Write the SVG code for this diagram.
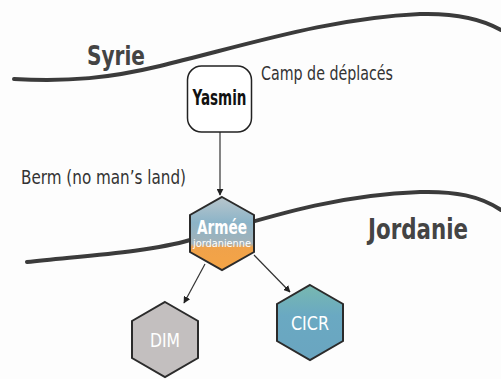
<svg xmlns="http://www.w3.org/2000/svg" width="501" height="379" viewBox="0 0 501 379">
<style>
.border{fill:none;stroke:#3b3b3b;stroke-width:4;stroke-linecap:round}
.lbl{font-family:"DejaVu Sans Condensed","DejaVu Sans",sans-serif;fill:#333}
.big{font-weight:bold;fill:#444}
.hex{stroke:#2b2b2b;stroke-width:2}
.htxt{font-family:"DejaVu Sans Condensed","DejaVu Sans",sans-serif;fill:#fff;text-anchor:middle}
.conn{stroke:#333;stroke-width:1.2;fill:none;marker-end:url(#ah)}
</style>
<defs>
<marker id="ah" viewBox="0 0 10 10" refX="9" refY="5" markerWidth="7" markerHeight="7" orient="auto" markerUnits="userSpaceOnUse">
<path d="M0,0 L10,5 L0,10 z" fill="#222"/>
</marker>
<linearGradient id="armee" x1="0" y1="0" x2="0" y2="1">
<stop offset="0" stop-color="#b9c6cc"/>
<stop offset="0.35" stop-color="#8cb4c8"/>
<stop offset="0.64" stop-color="#a3b2b8"/>
<stop offset="0.69" stop-color="#f0a24a"/>
<stop offset="1" stop-color="#f4a446"/>
</linearGradient>
<linearGradient id="cicr" x1="0" y1="0" x2="0" y2="1">
<stop offset="0" stop-color="#78b8b0"/>
<stop offset="0.4" stop-color="#6aa9c2"/>
<stop offset="1" stop-color="#6aa5c0"/>
</linearGradient>
</defs>
<rect width="501" height="379" fill="#fdfdfd"/>
<path class="border" d="M14,79 C70,82 110,78 160,66 C250,44 330,18 420,14 C455,13 480,18 501,30"/>
<path class="border" d="M27,262 C80,256 150,252 190,240 C260,220 330,195 420,192 C455,191 480,196 501,210"/>
<text class="lbl big" x="87" y="65" font-size="27" textLength="58" lengthAdjust="spacingAndGlyphs">Syrie</text>
<text class="lbl" x="261" y="80" font-size="19" textLength="132" lengthAdjust="spacingAndGlyphs">Camp de déplacés</text>
<text class="lbl" x="21" y="184" font-size="19" textLength="165" lengthAdjust="spacingAndGlyphs">Berm (no man’s land)</text>
<text class="lbl big" x="368" y="239" font-size="29" textLength="100" lengthAdjust="spacingAndGlyphs">Jordanie</text>
<g id="connectors">
<line class="conn" x1="220" y1="132" x2="220" y2="195"/>
<line class="conn" x1="205" y1="264" x2="184" y2="303"/>
<line class="conn" x1="254" y1="255" x2="290" y2="292"/>
</g>
<g id="yasmin">
<rect x="187.5" y="66" width="64" height="66" rx="14" fill="#fff" stroke="#222" stroke-width="1.5"/>
<text x="219.5" y="105" font-family="DejaVu Sans Condensed,DejaVu Sans,sans-serif" font-weight="bold" font-size="22" text-anchor="middle" fill="#111" textLength="54" lengthAdjust="spacingAndGlyphs">Yasmin</text>
</g>
<g id="armee-jordanienne">
<polygon class="hex" fill="url(#armee)" points="222,197 254,215 254,252 222,270 190,252 190,215"/>
<text class="htxt" x="222" y="234" font-size="20" font-weight="bold" textLength="50" lengthAdjust="spacingAndGlyphs">Armée</text>
<text class="htxt" x="222" y="247" font-size="10" textLength="58" lengthAdjust="spacingAndGlyphs">jordanienne</text>
</g>
<g id="dim">
<polygon class="hex" fill="#c3bfbf" points="165,302 198,321 198,358 165,377 132,358 132,321"/>
<text class="htxt" x="165" y="347" font-size="20" fill="#f4f4f4" textLength="30" lengthAdjust="spacingAndGlyphs">DIM</text>
</g>
<g id="cicr">
<polygon class="hex" fill="url(#cicr)" points="310,285 343,304 343,341 310,360 277,341 277,304"/>
<text class="htxt" x="310" y="330" font-size="20" textLength="38" lengthAdjust="spacingAndGlyphs">CICR</text>
</g>
</svg>
